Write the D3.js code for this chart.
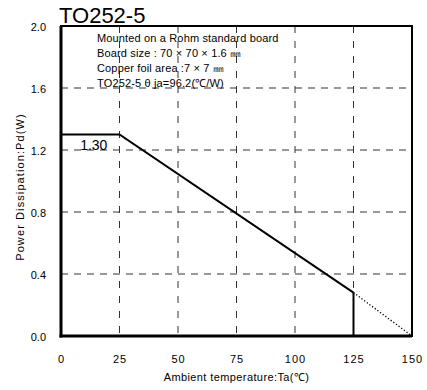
<!DOCTYPE html>
<html><head><meta charset="utf-8">
<script src="https://cdn.jsdelivr.net/npm/d3@7"></script>
<style>
body{margin:0;background:#fff}
text{font-family:"Liberation Sans",Arial,sans-serif;fill:#000}
</style>
</head><body><svg id="chart" width="427" height="390"></svg>
<script>
// Power dissipation derating curve, TO252-5 package
const chartTitle = "TO252-5";
const xTicks = [0, 25, 50, 75, 100, 125, 150];
const yTicks = [0.0, 0.4, 0.8, 1.2, 1.6, 2.0];
const yTickLabels = ["0.0", "0.4", "0.8", "1.2", "1.6", "2.0"];
const deratingTemp = [0, 25, 125];
const deratingPd = [1.30, 1.30, 0.28];
const cutoffTemp = [125, 125];
const cutoffPd = [0.28, 0];
const extensionTemp = [125, 150];
const extensionPd = [0.28, 0];
const ratedLabel = "1.30";
const ratedPd = 1.30;
const notes = [
  "Mounted on a Rohm standard board",
  "Board size : 70 × 70 × 1.6 ㎜",
  "Copper foil area :7 × 7 ㎜",
  "TO252-5 θ ja=96.2(℃/W)"
];
const xTitle = "Ambient temperature:Ta(℃)";
const yTitle = "Power Dissipation:Pd(W)";

const W = 427, H = 390;
const m = {left: 61, right: 15, top: 26, bottom: 54};
const svg = d3.select("#chart");

const x = d3.scaleLinear().domain([0, 150]).range([m.left, W - m.right]);
const y = d3.scaleLinear().domain([0, 2.0]).range([H - m.bottom, m.top]);

// grid
const gridX = xTicks.filter(t => t > 0 && t < 150);
const gridY = yTicks.filter(t => t > 0 && t < 2.0);
svg.append("g").selectAll("line").data(gridY).join("line")
  .attr("x1", x(0)).attr("x2", x(150))
  .attr("y1", d => y(d)).attr("y2", d => y(d))
  .attr("stroke", "#333").attr("stroke-width", 1)
  .attr("stroke-dasharray", "7,6");
svg.append("g").selectAll("line").data(gridX).join("line")
  .attr("x1", d => x(d)).attr("x2", d => x(d))
  .attr("y1", y(2.0)).attr("y2", y(0))
  .attr("stroke", "#333").attr("stroke-width", 1)
  .attr("stroke-dasharray", "7,8");

// frame
svg.append("rect")
  .attr("x", x(0)).attr("y", y(2.0))
  .attr("width", x(150) - x(0)).attr("height", y(0) - y(2.0))
  .attr("fill", "none").attr("stroke", "#000").attr("stroke-width", 2);
svg.append("line").attr("x1", x(0)).attr("x2", x(0)).attr("y1", y(2.0)).attr("y2", y(0) + 1.5)
  .attr("stroke", "#000").attr("stroke-width", 3);
svg.append("line").attr("x1", x(0) - 1.5).attr("x2", x(150)).attr("y1", y(0)).attr("y2", y(0))
  .attr("stroke", "#000").attr("stroke-width", 3);

// axes tick labels
const xAxis = d3.axisBottom(x).tickValues(xTicks).tickSize(0).tickPadding(19).tickFormat(d3.format("d"));
const gx = svg.append("g").attr("transform", `translate(0,${y(0)})`).call(xAxis);
gx.select(".domain").remove();
gx.selectAll("text").attr("font-size", 11).attr("letter-spacing", "1px")
  .attr("font-family", '"Liberation Sans",Arial,sans-serif').attr("fill", "#000");

const yAxis = d3.axisLeft(y).tickValues(yTicks).tickSize(0).tickPadding(15)
  .tickFormat((d, i) => yTickLabels[i]);
const gy = svg.append("g").attr("transform", `translate(${x(0)},0)`).call(yAxis);
gy.select(".domain").remove();
gy.selectAll("text").attr("font-size", 11).attr("dy", "0.42em")
  .attr("font-family", '"Liberation Sans",Arial,sans-serif').attr("fill", "#000");

// curves
const line = d3.line().x(d => x(d[0])).y(d => y(d[1]));
svg.append("path").datum(d3.zip(deratingTemp, deratingPd))
  .attr("d", line).attr("fill", "none").attr("stroke", "#000").attr("stroke-width", 2);
svg.append("path").datum(d3.zip(cutoffTemp, cutoffPd))
  .attr("d", line).attr("fill", "none").attr("stroke", "#000").attr("stroke-width", 2);
svg.append("path").datum(d3.zip(extensionTemp, extensionPd))
  .attr("d", line).attr("fill", "none").attr("stroke", "#000").attr("stroke-width", 1.3)
  .attr("stroke-dasharray", "1.3,2");

// rated value label
svg.append("text").attr("x", x(14)).attr("y", y(ratedPd) + 15)
  .attr("text-anchor", "middle").attr("font-size", 14).text(ratedLabel);

// board notes
svg.append("g").selectAll("text").data(notes).join("text")
  .attr("x", x(0) + 36).attr("y", (d, i) => y(2.0) + 16 + i * 15)
  .attr("font-size", 11).attr("letter-spacing", "0.15px").text(d => d);

// title and axis titles
svg.append("text").attr("x", x(0) - 2).attr("y", 23)
  .attr("font-size", 22).text(chartTitle);
svg.append("text").attr("x", (x(0) + x(150)) / 2).attr("y", 381)
  .attr("text-anchor", "middle").attr("font-size", 11).attr("letter-spacing", "0.4px").text(xTitle);
svg.append("text").attr("transform", `translate(24,${(y(0) + y(2.0)) / 2 + 6}) rotate(-90)`)
  .attr("text-anchor", "middle").attr("font-size", 11).attr("letter-spacing", "1.1px").text(yTitle);
</script>
</body></html>
